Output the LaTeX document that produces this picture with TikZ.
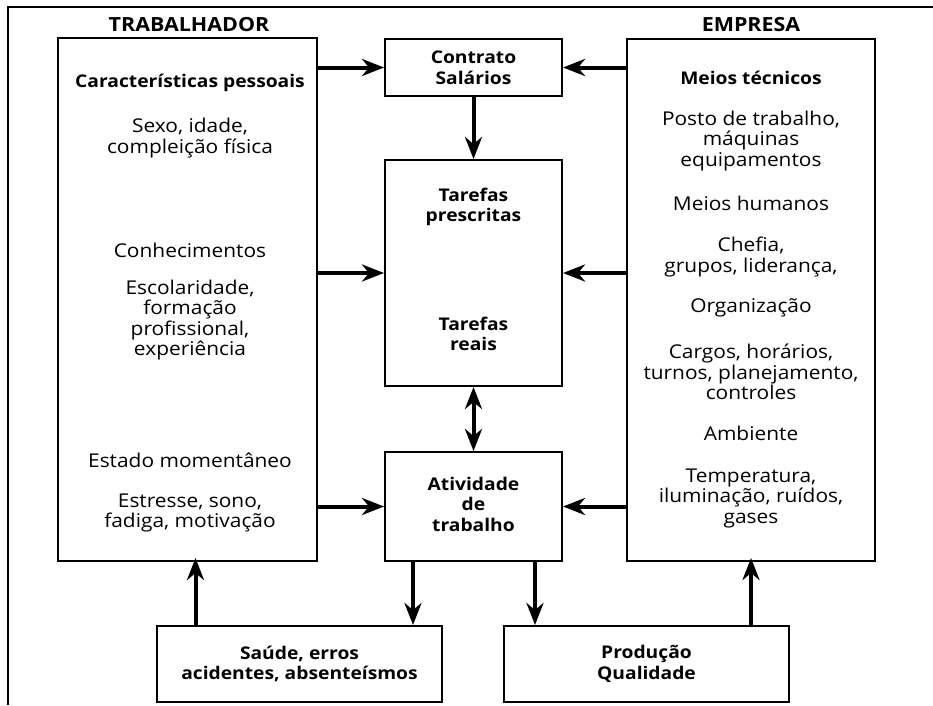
\documentclass[tikz,border=0pt]{standalone}
\usepackage{fontspec}
\setmainfont{Open Sans}[FakeStretch=1.1]
\usetikzlibrary{arrows.meta,calc}
\begin{document}
\begin{tikzpicture}[x=1pt,y=-1pt,
  box/.style={draw,line width=2pt,inner sep=0pt},
  arr/.style={line width=4pt,-{Stealth[length=22pt,width=17pt,inset=7pt]}},
  darr/.style={line width=4pt,{Stealth[length=22pt,width=17pt,inset=7pt]}-{Stealth[length=22pt,width=17pt,inset=7pt]}},
  reg/.style={align=center,font=\fontsize{19}{20.5}\selectfont,inner sep=0pt},
  bld/.style={align=center,font=\fontsize{17.5}{20.5}\selectfont\bfseries,inner sep=0pt},
  ttl/.style={align=center,font=\fontsize{19.5}{21}\selectfont\bfseries,inner sep=0pt}]
\useasboundingbox (0,0) rectangle (933,705);
\fill[white] (0,0) rectangle (933,705);
\draw[line width=2.5pt] (8,705) |- (933,7);

% titles
\node[ttl] (tTrab) at (189,25) {TRABALHADOR};
\node[ttl] (tEmp) at (751,25) {EMPRESA};

% boxes
\node[box,minimum width=259pt,minimum height=523pt] (L) at (187.5,299.5) {};
\node[box,minimum width=248pt,minimum height=522pt] (R) at (751,300) {};
\node[box,minimum width=177pt,minimum height=57pt] (C) at (473.5,67.5) {};
\node[box,minimum width=177pt,minimum height=226pt] (T) at (473.5,273) {};
\node[box,minimum width=177pt,minimum height=109pt] (A) at (473.5,506.5) {};
\node[box,minimum width=285pt,minimum height=76pt] (S) at (299.5,664) {};
\node[box,minimum width=285pt,minimum height=76pt] (P) at (646.5,664) {};

% middle texts
\node[bld] (cTxt) at (C) {Contrato\\Salários};
\node[bld] (tPres) at (473.5,207) {Tarefas\\prescritas};
\node[bld] (tReal) at (473.5,334) {Tarefas\\reais};
\node[bld] (aTxt) at (473.5,504) {Atividade\\de\\trabalho};
\node[bld] (sTxt) at (S) {Saúde, erros\\acidentes, absenteísmos};
\node[bld] (pTxt) at (P) {Produção\\Qualidade};

% left texts
\node[bld] (l1) at (190,83) {Características pessoais};
\node[reg] (l2) at (190,138) {Sexo, idade,\\compleição física};
\node[reg] (l3) at (190,250) {Conhecimentos};
\node[reg] (l4) at (190,320) {Escolaridade,\\formação\\profissional,\\experiência};
\node[reg] (l5) at (190,460) {Estado momentâneo};
\node[reg] (l6) at (190,513) {Estresse, sono,\\fadiga, motivação};

% right texts
\node[bld] (r1) at (751,78) {Meios técnicos};
\node[reg] (r2) at (751,141) {Posto de trabalho,\\máquinas\\equipamentos};
\node[reg] (r3) at (751,203) {Meios humanos};
\node[reg] (r4) at (751,257) {Chefia,\\grupos, liderança,};
\node[reg] (r5) at (751,308) {Organização};
\node[reg] (r6) at (751,372) {Cargos, horários,\\turnos, planejamento,\\controles};
\node[reg] (r7) at (751,433) {Ambiente};
\node[reg] (r8) at (751,498) {Temperatura,\\iluminação, ruídos,\\gases};

% arrows
\draw[arr] (L.east |- C.west) -- (C.west);
\draw[arr] (L.east |- T.west) -- (T.west);
\draw[arr] (L.east |- A.west) -- (A.west);
\draw[arr] (R.west |- C.east) -- (C.east);
\draw[arr] (R.west |- T.east) -- (T.east);
\draw[arr] (R.west |- A.east) -- (A.east);
\draw[arr] (C.south) -- (T.north);
\draw[darr] (T.south) -- (A.north);
\draw[arr] ([xshift=29pt]A.south west) -- ([xshift=29pt]A.south west |- S.north);
\draw[arr] ([xshift=-28pt]A.south east) -- ([xshift=-28pt]A.south east |- P.north);
\draw[arr] ([xshift=8pt]L.south |- S.north) -- ([xshift=8pt,yshift=4pt]L.south);
\draw[arr] (R.south |- P.north) -- ([yshift=4pt]R.south);
\end{tikzpicture}
\end{document}
